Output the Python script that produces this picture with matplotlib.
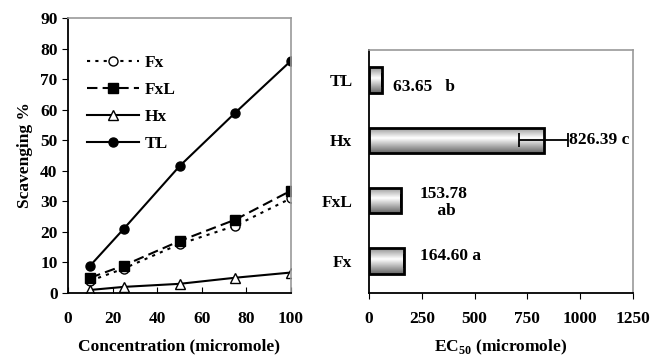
"""Scavenging curves and EC50 bar chart (Fx, FxL, Hx, TL)."""
import matplotlib

matplotlib.use("Agg")
import matplotlib.pyplot as plt
import numpy as np

plt.rcParams["font.family"] = ["Liberation Serif", "DejaVu Serif"]
plt.rcParams["font.weight"] = "bold"
plt.rcParams["mathtext.fontset"] = "custom"
plt.rcParams["mathtext.bf"] = "Liberation Serif:bold"
plt.rcParams["mathtext.rm"] = "Liberation Serif:bold"

# --- data ---
conc = [10, 25, 50, 75, 100]
fx = [4, 8, 16, 22, 31]
fxl = [5, 9, 17, 24, 33.5]
hx = [1, 2, 3, 5, 6.7]
tl = [9, 21, 41.5, 59, 76]

samples = ["Fx", "FxL", "Hx", "TL"]
ec50 = [164.60, 153.78, 826.39, 63.65]
ec50_err = [0, 0, 116, 0]
ec50_text = ["164.60 a", "153.78\n    ab", "826.39 c", "63.65   b"]

FS = 12.5
W, H = 651, 358
fig = plt.figure(figsize=(W / 100, H / 100), dpi=100)

# ---------------- left: scavenging curves ----------------
ax1 = fig.add_axes([68 / W, 1 - 293 / H, 223 / W, 275 / H])
ax1.plot(conc, fx, ls=(0, (1.5, 2.5)), color="black", lw=1.5, marker="o",
         mfc="white", mec="black", ms=6.5, label="Fx")
ax1.plot(conc, fxl, ls=(0, (5, 2.5)), color="black", lw=1.5, marker="s",
         mfc="black", mec="black", ms=6.5, label="FxL")
ax1.plot(conc, hx, ls="-", color="black", lw=1.5, marker="^",
         mfc="white", mec="black", ms=6.5, label="Hx")
ax1.plot(conc, tl, ls="-", color="black", lw=1.5, marker="o",
         mfc="black", mec="black", ms=6.5, label="TL")
ax1.set_xlim(0, 100)
ax1.set_ylim(0, 90)
ax1.set_xticks(range(0, 101, 20))
ax1.set_yticks(range(0, 91, 10))
ax1.tick_params(axis="x", direction="in", length=4, pad=13, labelsize=FS)
ax1.tick_params(axis="y", direction="out", length=4, labelsize=FS)
ax1.set_xlabel("Concentration (micromole)", fontsize=FS, fontweight="bold", labelpad=8)
ax1.set_ylabel("Scavenging %", fontsize=FS, fontweight="bold", labelpad=5)
ax1.legend(loc="upper left", bbox_to_anchor=(0.055, 0.89), borderaxespad=0,
           frameon=False, handlelength=3.0, handletextpad=0.3,
           labelspacing=0.62, prop={"weight": "bold", "size": FS})

# ---------------- right: EC50 bars ----------------
ax2 = fig.add_axes([369 / W, 1 - 293 / H, 264 / W, 243 / H])
ypos = np.arange(len(samples))
bars = ax2.barh(ypos, ec50, height=0.42, color="none", edgecolor="black",
                lw=2.0, zorder=3)
ax2.errorbar(ec50, ypos, xerr=ec50_err, fmt="none", ecolor="black",
             elinewidth=1.3, capsize=5, capthick=1.3, zorder=4)

# cylinder-like gradient inside each bar
t = np.linspace(0, 1, 64)
shade = 1 - 0.6 * np.abs(t - 0.42) / 0.58
grad = np.tile(shade[:, None], (1, 2))
for b in bars:
    x0, y0 = b.get_x(), b.get_y()
    im = ax2.imshow(grad, cmap="gray", vmin=0, vmax=1, aspect="auto",
                    extent=(x0, x0 + b.get_width(), y0, y0 + b.get_height()),
                    origin="upper", zorder=2)
    im.set_clip_path(b)

# value labels (x, y in data units)
label_pos = [(240, 0.08), (240, 0.97), (948, 2.0), (114, 2.88)]
for (lx, ly), txt in zip(label_pos, ec50_text):
    ax2.text(lx, ly, txt, fontsize=FS, fontweight="bold", va="center",
             ha="left", zorder=5, linespacing=1.1)

ax2.set_xlim(0, 1250)
ax2.set_ylim(-0.53, 3.5)
ax2.set_xticks(range(0, 1251, 250))
ax2.set_yticks(ypos)
ax2.set_yticklabels(samples)
ax2.tick_params(axis="x", direction="out", length=4, pad=9, labelsize=FS)
ax2.tick_params(axis="y", length=0, pad=12, labelsize=FS)
ax2.set_xlabel("EC$_{50}$ (micromole)", fontsize=FS, fontweight="bold", labelpad=8)

for ax in (ax1, ax2):
    for s in ("top", "right"):
        ax.spines[s].set_color("#999999")
        ax.spines[s].set_linewidth(1.2)
    for s in ("left", "bottom"):
        ax.spines[s].set_color("black")
        ax.spines[s].set_linewidth(1.3)

fig.savefig("out.png", dpi=100)
